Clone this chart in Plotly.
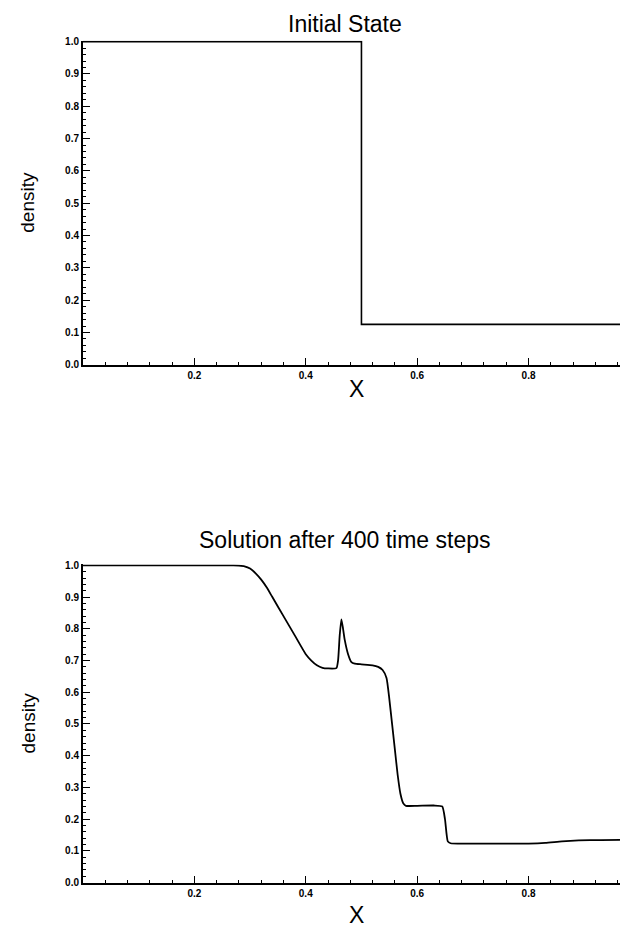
import plotly.graph_objects as go

# ---- data ----
x_init = [0.0, 0.5, 0.5, 0.993]
rho_init = [1.0, 1.0, 0.125, 0.125]

x_sol = [0.0, 0.27, 0.28, 0.29, 0.30, 0.31, 0.32, 0.33, 0.34, 0.36, 0.38,
         0.40, 0.41, 0.42, 0.43, 0.44, 0.455, 0.458, 0.461, 0.464, 0.467,
         0.470, 0.476, 0.482, 0.488, 0.50, 0.52, 0.53, 0.538, 0.545, 0.55,
         0.555, 0.56, 0.565, 0.57, 0.575, 0.58, 0.60, 0.63, 0.645, 0.650,
         0.655, 0.66, 0.70, 0.80, 0.83, 0.86, 0.89, 0.93, 0.993]
rho_sol = [1.0, 1.0, 0.999, 0.997, 0.99, 0.975, 0.955, 0.93, 0.90, 0.84, 0.78,
           0.72, 0.70, 0.685, 0.677, 0.675, 0.676, 0.70, 0.78, 0.83, 0.80,
           0.765, 0.72, 0.695, 0.69, 0.688, 0.685, 0.68, 0.67, 0.645, 0.58,
           0.50, 0.42, 0.34, 0.28, 0.25, 0.242, 0.242, 0.243, 0.24, 0.20,
           0.13, 0.124, 0.123, 0.123, 0.125, 0.13, 0.133, 0.134, 0.135]

x_tickvals = [0.2, 0.4, 0.6, 0.8]
x_ticktext = ["0.2", "0.4", "0.6", "0.8"]
y_tickvals = [0.0, 0.1, 0.2, 0.3, 0.4, 0.5, 0.6, 0.7, 0.8, 0.9, 1.0]
y_ticktext = ["0.0", "0.1", "0.2", "0.3", "0.4", "0.5", "0.6", "0.7", "0.8", "0.9", "1.0"]

titles = ["Initial State", "Solution after 400 time steps"]

W, H = 628, 930
FONT = "Liberation Sans, Arial, sans-serif"

fig = go.Figure()
fig.add_trace(go.Scatter(x=x_init, y=rho_init, mode="lines",
                         line=dict(color="black", width=1.6),
                         xaxis="x", yaxis="y", showlegend=False))
fig.add_trace(go.Scatter(x=x_sol, y=rho_sol, mode="lines",
                         line=dict(color="black", width=1.8, shape="spline", smoothing=0.5),
                         xaxis="x2", yaxis="y2", showlegend=False))

def xaxis(anchor):
    return dict(domain=[75 / W, 1.0], range=[0, 0.993], anchor=anchor,
                showline=True, linecolor="black", linewidth=2, mirror=False,
                showgrid=False, zeroline=False,
                tickvals=x_tickvals, ticktext=x_ticktext,
                ticks="inside", ticklen=7, tickwidth=1.2, tickcolor="black",
                minor=dict(ticks="inside", dtick=0.04, tick0=0, ticklen=3,
                           tickwidth=1, tickcolor="black"),
                tickfont=dict(family=FONT, size=10, color="black", weight="bold"))

def yaxis(anchor, top_px, bot_px):
    return dict(domain=[(H - bot_px) / H, (H - top_px) / H], range=[0, 1.003],
                anchor=anchor,
                showline=True, linecolor="black", linewidth=2, mirror=False,
                showgrid=False, zeroline=False,
                tickvals=y_tickvals, ticktext=y_ticktext,
                ticks="inside", ticklen=7, tickwidth=1.2, tickcolor="black",
                minor=dict(ticks="inside", dtick=0.02, tick0=0, ticklen=3,
                           tickwidth=1, tickcolor="black"),
                tickfont=dict(family=FONT, size=10, color="black", weight="bold"))

TOP1, BOT1 = 28, 356
TOP2, BOT2 = 558, 880

layout_px = [(TOP1, BOT1, titles[0], 11, 380), (TOP2, BOT2, titles[1], 533, 913)]

annotations = []
for (tp, bp, title, ty, xy) in layout_px:
    annotations.append(dict(text=title, x=337 / W, y=(H - ty) / H,
                            xref="paper", yref="paper", showarrow=False,
                            xanchor="center", yanchor="middle",
                            font=dict(family=FONT, size=23, color="black")))
    annotations.append(dict(text="density", x=20 / W, y=(H - (tp + bp) / 2) / H,
                            xref="paper", yref="paper", showarrow=False,
                            textangle=-90, xanchor="center", yanchor="middle",
                            font=dict(family=FONT, size=19, color="black")))
    annotations.append(dict(text="X", x=348 / W, y=(H - xy) / H,
                            xref="paper", yref="paper", showarrow=False,
                            xanchor="center", yanchor="middle",
                            font=dict(family=FONT, size=23, color="black")))

fig.update_layout(
    width=W, height=H,
    margin=dict(l=0, r=0, t=0, b=0),
    paper_bgcolor="white", plot_bgcolor="white",
    xaxis=xaxis("y"), yaxis=yaxis("x", TOP1, BOT1),
    xaxis2=xaxis("y2"), yaxis2=yaxis("x2", TOP2, BOT2),
    annotations=annotations,
    showlegend=False,
)

fig.write_html("out.html")
